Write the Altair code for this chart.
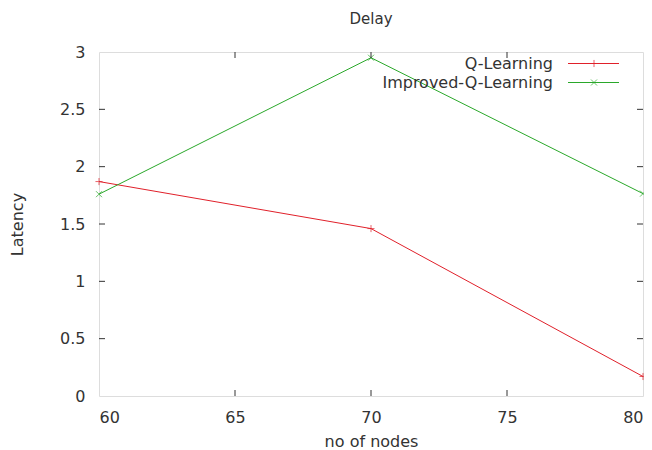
import altair as alt
import pandas as pd

nodes = [60, 70, 80]
q_learning = [1.87, 1.46, 0.17]
improved_q = [1.76, 2.95, 1.765]
series_names = ["Q-Learning", "Improved-Q-Learning"]
colors = ["#e0202a", "#2aa82a"]
x_ticks = [60, 65, 70, 75, 80]
y_ticks = [0, 0.5, 1, 1.5, 2, 2.5, 3]

W, H = 544, 344
FONT = "DejaVu Sans"
TXT = "#333333"
FS = 16

df = pd.DataFrame({
    "nodes": nodes * 2,
    "latency": q_learning + improved_q,
    "series": [series_names[0]] * 3 + [series_names[1]] * 3,
})

PLUS = "M-1,0L1,0M0,-1L0,1"
CROSS = "M-1,-1L1,1M-1,1L1,-1"

xs = alt.Scale(domain=[60, 80], nice=False, zero=False)
ys = alt.Scale(domain=[0, 3], nice=False)

xax = alt.Axis(values=x_ticks, ticks=False, tickSize=0, domain=False, grid=False,
               labelFontSize=FS, labelFont=FONT, labelColor=TXT, labelPadding=13,
               title="no of nodes", titleFont=FONT, titleFontSize=FS,
               titleFontWeight="normal", titleColor=TXT, titlePadding=8,
               format="d")
yax = alt.Axis(values=y_ticks, ticks=False, tickSize=0, domain=False, grid=False,
               labelFontSize=FS, labelFont=FONT, labelColor=TXT, labelPadding=14,
               format="~g",
               title="Latency", titleFont=FONT, titleFontSize=FS,
               titleFontWeight="normal", titleColor=TXT, titlePadding=34)

base = alt.Chart(df)
color = alt.Color("series:N", scale=alt.Scale(domain=series_names, range=colors), legend=None)

lines = base.mark_line(strokeWidth=1, clip=True).encode(
    x=alt.X("nodes:Q", scale=xs, axis=xax),
    y=alt.Y("latency:Q", scale=ys, axis=yax),
    color=color,
)

pts_q = base.transform_filter(alt.datum.series == series_names[0]).mark_point(
    shape=PLUS, size=50, strokeWidth=1, filled=False, color=colors[0]
).encode(x=alt.X("nodes:Q", scale=xs), y=alt.Y("latency:Q", scale=ys))
pts_i = base.transform_filter(alt.datum.series == series_names[1]).mark_point(
    shape=CROSS, size=36, strokeWidth=1, filled=False, color=colors[1]
).encode(x=alt.X("nodes:Q", scale=xs), y=alt.Y("latency:Q", scale=ys))

xt = pd.DataFrame({"v": x_ticks[1:-1]})
yt = pd.DataFrame({"v": y_ticks[1:-1]})
tick_col = "#333333"
xtick_b = alt.Chart(xt).mark_rule(color=tick_col, strokeWidth=1).encode(
    x=alt.X("v:Q", scale=xs), y=alt.value(H), y2=alt.value(H - 6))
xtick_t = alt.Chart(xt).mark_rule(color=tick_col, strokeWidth=1).encode(
    x=alt.X("v:Q", scale=xs), y=alt.value(0), y2=alt.value(6))
ytick_l = alt.Chart(yt).mark_rule(color=tick_col, strokeWidth=1).encode(
    y=alt.Y("v:Q", scale=ys), x=alt.value(0), x2=alt.value(6))
ytick_r = alt.Chart(yt).mark_rule(color=tick_col, strokeWidth=1).encode(
    y=alt.Y("v:Q", scale=ys), x=alt.value(W), x2=alt.value(W - 6))

# legend
leg_rows = [11.5, 30.5]
leg = []
for i, name in enumerate(series_names):
    ld = pd.DataFrame({"name": [name]})
    leg.append(alt.Chart(ld).mark_text(align="right", baseline="middle", font=FONT,
                                       fontSize=FS, color=TXT).encode(
        text="name:N", x=alt.value(454), y=alt.value(leg_rows[i])))
    leg.append(alt.Chart(ld).mark_rule(color=colors[i], strokeWidth=1).encode(
        x=alt.value(469), x2=alt.value(520), y=alt.value(leg_rows[i])))
    leg.append(alt.Chart(ld).mark_point(shape=PLUS if i == 0 else CROSS,
                                        size=50 if i == 0 else 36, strokeWidth=1,
                                        filled=False, color=colors[i]).encode(
        x=alt.value(495), y=alt.value(leg_rows[i])))

chart = alt.layer(lines, pts_q, pts_i, xtick_b, xtick_t, ytick_l, ytick_r, *leg).properties(
    width=W, height=H,
    title=alt.TitleParams("Delay", font=FONT, fontSize=15, fontWeight="normal",
                          color=TXT, offset=17, anchor="middle"),
    autosize=alt.AutoSizeParams(type="none"),
    padding={"left": 91, "top": 44, "right": 1, "bottom": 54},
).configure_view(stroke="#333333", strokeWidth=1).configure(background="white")

chart.save("out.html", embed_options={"renderer": "svg", "actions": False})
